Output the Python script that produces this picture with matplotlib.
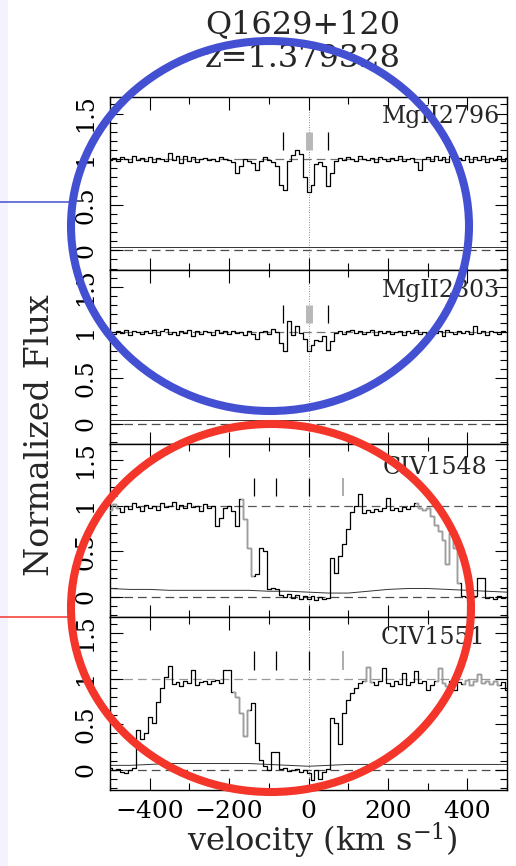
import numpy as np
import matplotlib
matplotlib.use('Agg')
import matplotlib.pyplot as plt
from matplotlib.patches import Ellipse, Rectangle
from matplotlib.ticker import MultipleLocator

plt.rcParams['font.family'] = 'DejaVu Serif'
plt.rcParams['mathtext.fontset'] = 'dejavuserif'

# pixel velocities (km/s) for the flux, coarser grid for the sigma spectra
velocity = np.arange(-500, 501, 10)
err_velocity = np.arange(-500, 501, 50)

names = ['MgII2796', 'MgII2803', 'CIV1548', 'CIV1551']

mg2796 = [0.99, 1.01, 0.98, 1.02, 1.00, 0.97, 1.03, 0.99, 1.01, 0.98,
          1.02, 0.97, 1.01, 1.00, 0.98, 1.07, 0.99, 1.04, 0.96, 1.03,
          0.98, 1.02, 0.97, 1.00, 1.01, 0.99, 1.00, 0.98, 1.02, 1.00,
          0.99, 0.97, 0.85, 0.93, 1.00, 0.98, 0.96, 0.88, 0.98, 1.02,
          0.99, 0.97, 0.92, 0.72, 0.66, 0.98, 1.05, 1.10, 1.06, 0.80,
          0.64, 0.72, 0.95, 0.97, 0.93, 0.70, 0.85, 0.98, 1.01, 0.99,
          1.02, 1.00, 0.98, 1.03, 1.00, 0.99, 1.01, 0.97, 1.02, 1.00,
          0.98, 1.01, 0.99, 1.03, 0.98, 1.00, 1.01, 0.97, 0.88, 1.00,
          1.02, 0.98, 1.03, 0.99, 1.02, 0.97, 1.04, 0.98, 1.01, 0.99,
          1.03, 0.97, 1.02, 0.99, 1.04, 0.97, 1.01, 0.99, 1.03, 0.98,
          1.01]

mg2803 = [1.00, 0.98, 1.02, 0.99, 1.03, 0.97, 1.01, 1.00, 0.98, 1.02,
          0.99, 1.03, 0.97, 1.01, 1.04, 0.98, 1.00, 0.97, 1.02, 0.99,
          1.03, 0.96, 1.01, 0.98, 1.02, 1.00, 0.97, 1.03, 0.99, 1.01,
          0.98, 1.02, 0.99, 1.00, 0.97, 1.01, 0.98, 0.93, 1.00, 1.02,
          0.98, 1.04, 1.00, 0.88, 0.80, 1.12, 0.97, 1.07, 0.99, 0.93,
          0.80, 0.86, 0.92, 0.90, 0.96, 0.81, 0.90, 0.99, 1.02, 0.98,
          1.01, 1.03, 0.99, 1.02, 0.98, 1.00, 1.03, 0.97, 1.01, 0.99,
          1.02, 0.98, 1.00, 1.01, 0.97, 1.02, 0.99, 1.03, 0.98, 1.00,
          0.97, 1.02, 0.99, 1.01, 0.96, 1.03, 1.00, 0.98, 1.02, 0.99,
          1.01, 0.98, 1.07, 0.99, 1.02, 0.97, 1.01, 1.00, 0.98, 1.02,
          1.00]

civ1548 = [0.95, 1.02, 0.97, 0.93, 1.00, 0.96, 1.03, 0.98, 0.94, 1.01,
           0.97, 1.00, 0.95, 1.03, 0.98, 0.99, 1.04, 0.96, 1.01, 0.97,
           1.03, 0.98, 1.00, 0.94, 1.02, 0.97, 0.99, 0.78, 0.86, 0.97,
           0.99, 0.94, 0.78, 1.07, 0.85, 0.53, 0.23, 0.25, 0.53, 0.50,
           0.09, 0.10, 0.08, 0.02, 0.00, 0.03, -0.01, 0.02, -0.03, 0.01,
           -0.02, 0.01, -0.04, 0.00, -0.03, -0.01, 0.42, 0.26, 0.45, 0.58,
           0.74, 0.93, 1.00, 1.13, 0.92, 0.95, 0.93, 0.96, 0.94, 0.97,
           1.08, 0.95, 0.97, 0.94, 0.98, 0.96, 0.99, 1.03, 0.97, 0.95,
           0.97, 0.88, 0.79, 0.72, 0.62, 0.36, 0.70, 0.53, 0.15, 0.01,
           0.00, -0.02, 0.01, 0.20, 0.21, -0.01, 0.00, -0.02, 0.01, -0.01,
           0.00]

civ1551 = [0.02, 0.00, 0.01, -0.02, -0.03, 0.00, 0.02, 0.44, 0.34, 0.40,
           0.58, 0.52, 0.75, 0.90, 1.02, 1.14, 0.94, 0.96, 0.92, 0.97,
           0.95, 1.10, 0.93, 0.96, 0.98, 0.94, 0.97, 0.99, 0.95, 1.10,
           1.10, 0.86, 0.80, 0.62, 0.37, 0.66, 0.73, 0.30, 0.11, 0.04,
           0.00, 0.20, 0.20, 0.01, 0.02, -0.01, 0.00, 0.01, -0.02, 0.00,
           -0.03, -0.11, 0.00, -0.10, -0.02, 0.01, 0.57, 0.52, 0.28, 0.62,
           0.77, 0.84, 0.90, 0.95, 0.97, 1.13, 0.96, 0.93, 0.97, 1.12,
           0.95, 0.92, 0.98, 0.94, 1.06, 0.93, 0.96, 1.09, 0.95, 0.97,
           0.88, 0.93, 0.97, 1.12, 0.95, 0.92, 0.98, 0.88, 0.96, 0.94,
           0.99, 0.93, 0.97, 1.05, 0.95, 0.98, 0.94, 0.97, 0.93, 0.96,
           0.88]

err2796 = [0.035] * 21
err2803 = [0.035] * 21
err1548 = [0.09, 0.08, 0.08, 0.07, 0.07, 0.07, 0.07, 0.07, 0.06, 0.06, 0.05,
           0.04, 0.04, 0.06, 0.08, 0.09, 0.09, 0.08, 0.07, 0.06, 0.05]
err1551 = [0.05, 0.05, 0.06, 0.07, 0.07, 0.07, 0.07, 0.07, 0.06, 0.05, 0.04,
           0.05, 0.06, 0.06, 0.06, 0.06, 0.06, 0.06, 0.06, 0.06, 0.06]

fluxes = [mg2796, mg2803, civ1548, civ1551]
errors = [err2796, err2803, err1548, err1551]

# component markers (black) and blended/uncertain ones (grey)
comp_black = [[-64, 50], [-64, 50], [-138, -83, 0], [-138, -83, 0]]
comp_grey = [[0], [0], [88], [88]]

# velocity ranges flagged as contaminated, drawn in grey
grey_ranges = [[], [], [(-500, -480), (-170, -140), (270, 380)],
               [(-190, -150), (140, 160), (320, 350), (390, 480)]]

fig = plt.figure(figsize=(5.16, 8.66), dpi=100)
left, width = 0.2132, 0.7694
bottom, height = 0.0878, 0.2000
label_pos = [(0.982, 0.955), (0.982, 0.948), (0.95, 0.93), (0.945, 0.948)]
cont_col = ['0.45', '0.45', '0.35', '0.6']

for i in range(4):
    ax = fig.add_axes([left, bottom + (3 - i) * height, width, height])
    f = np.array(fluxes[i])
    ax.step(velocity, f, where='mid', color='k', lw=0.9, zorder=3)
    for v0, v1 in grey_ranges[i]:
        m = (velocity >= v0) & (velocity <= v1)
        ax.step(velocity[m], f[m], where='mid', color='0.62', lw=1.0, zorder=4)
    ax.plot(err_velocity, errors[i], color='0.2', lw=0.7, zorder=2)
    ax.axhline(0, ls=(0, (7, 4)), color='0.3', lw=0.9, zorder=1)
    ax.axhline(1, ls=(0, (7, 4)), color=cont_col[i], lw=0.9, zorder=1)
    ax.axvline(0, ls=(0, (1, 2)), color='0.4', lw=0.6, zorder=1)
    ax.vlines(comp_black[i], 1.1, 1.3, color='k', lw=0.9)
    if i < 2:
        ax.vlines(comp_grey[i], 1.1, 1.3, color='0.72', lw=5)
    else:
        ax.vlines(comp_grey[i], 1.1, 1.3, color='0.62', lw=1.2)

    ax.set_xlim(-500, 500)
    ax.set_ylim(-0.22, 1.68)
    ax.xaxis.set_major_locator(MultipleLocator(200))
    ax.xaxis.set_minor_locator(MultipleLocator(100))
    ax.yaxis.set_minor_locator(MultipleLocator(0.1))
    ax.set_yticks([0, 0.5, 1, 1.5])
    ax.set_yticklabels(['0', '0.5', '1', '1.5'], rotation=90, va='center')
    ax.tick_params(which='both', direction='in', top=True, right=True,
                   width=0.8, labelsize=17)
    ax.tick_params(axis='x', labelsize=18)
    ax.tick_params(which='major', length=9)
    ax.tick_params(which='minor', length=5)
    ax.tick_params(axis='y', pad=9)
    ax.tick_params(axis='x', pad=7)
    if i < 3:
        ax.tick_params(axis='x', labelbottom=False)
    for s in ax.spines.values():
        s.set_linewidth(1.0)
    ax.text(label_pos[i][0], label_pos[i][1], names[i], transform=ax.transAxes,
            ha='right', va='top', fontsize=17, color='0.15')

fig.text(0.587, 0.971, 'Q1629+120', ha='center', va='center', fontsize=23, color='0.15')
fig.text(0.587, 0.933, 'z=1.379328', ha='center', va='center', fontsize=23, color='0.15')
fig.text(0.0775, 0.498, 'Normalized Flux', rotation=90, ha='center', va='center',
         fontsize=24, color='0.15')
fig.text(0.624, 0.016, 'velocity (km s$^{-1}$)', ha='center', va='baseline',
         fontsize=23, color='0.15')

# highlight overlay in pixel coordinates
ov = fig.add_axes([0, 0, 1, 1], zorder=10)
ov.set_xlim(0, 516)
ov.set_ylim(866, 0)
ov.axis('off')
ov.patch.set_alpha(0)
ov.add_patch(Rectangle((0, 0), 8, 866, color='#f3f2fd', lw=0, zorder=0))
ov.add_patch(Ellipse((270, 226), 398, 370, fill=False, ec='#4450d2', lw=5.8))
ov.plot([0, 70], [202, 202], color='#4450d2', lw=1.1)
ov.add_patch(Ellipse((271, 608), 400, 368, fill=False, ec='#f4352a', lw=5.8))
ov.plot([0, 70], [617, 617], color='#f4352a', lw=1.1)

fig.savefig('out.png', dpi=100)
